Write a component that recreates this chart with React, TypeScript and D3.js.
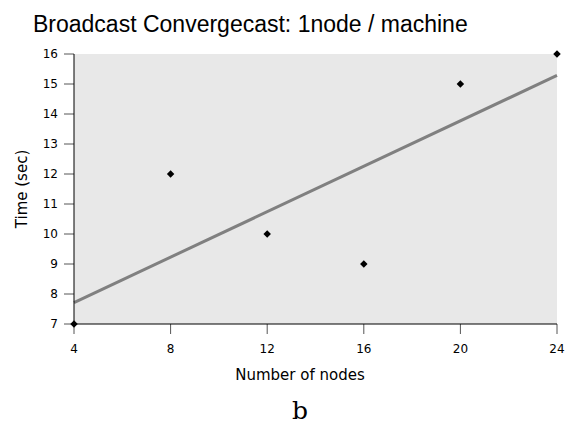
import React from "react";
import * as d3 from "d3";

const nodes = [4, 8, 12, 16, 20, 24];
const times = [7, 12, 10, 9, 15, 16];
const xTicks = [4, 8, 12, 16, 20, 24];
const yTicks = [7, 8, 9, 10, 11, 12, 13, 14, 15, 16];

export default function App() {
  const W = 573, H = 428;
  const x = d3.scaleLinear().domain([4, 24]).range([74, 557]);
  const y = d3.scaleLinear().domain([7, 16]).range([324, 54]);
  const mx = d3.mean(nodes)!, my = d3.mean(times)!;
  const sxy = d3.sum(nodes.map((v, i) => (v - mx) * (times[i] - my)));
  const sxx = d3.sum(nodes.map((v) => (v - mx) ** 2));
  const slope = sxy / sxx;
  const icpt = my - slope * mx;
  const line = d3.line<number>().x((d) => x(d)).y((d) => y(icpt + slope * d));
  const diamond = d3.symbol().type(d3.symbolSquare).size(28)()!;
  const font = "DejaVu Sans, sans-serif";
  return (
    <svg width={W} height={H} style={{ position: "absolute", left: 0, top: 0, background: "#fff" }}>
      <text x={33} y={32} fontFamily="Liberation Sans, sans-serif" fontSize={23} fill="#000">Broadcast Convergecast: 1node / machine</text>
      <rect x={x(4)} y={y(16)} width={x(24) - x(4)} height={y(7) - y(16)} fill="#e8e8e8" />
      <path d={line([4, 24])!} stroke="#808080" strokeWidth={3} fill="none" />
      {yTicks.map((t) => (
        <g key={"y" + t}>
          <line x1={x(4) - 10} x2={x(4)} y1={y(t)} y2={y(t)} stroke="#555" strokeWidth={1} />
          <text x={58} y={y(t) + 4} textAnchor="end" fontFamily={font} fontSize={12}>{t}</text>
        </g>
      ))}
      {xTicks.map((t) => (
        <g key={"x" + t}>
          <line x1={x(t)} x2={x(t)} y1={y(7)} y2={y(7) + 10} stroke="#555" strokeWidth={1} />
          <text x={x(t)} y={353} textAnchor="middle" fontFamily={font} fontSize={12}>{t}</text>
        </g>
      ))}
      <line x1={x(4)} x2={x(4)} y1={y(16)} y2={y(7)} stroke="#000" strokeWidth={1} />
      <line x1={x(4)} x2={x(24)} y1={y(7)} y2={y(7)} stroke="#000" strokeWidth={1} />
      {nodes.map((n, i) => (
        <path key={n} d={diamond} transform={`translate(${x(n)},${y(times[i])}) rotate(45)`} fill="#000" />
      ))}
      <text x={300} y={380} textAnchor="middle" fontFamily={font} fontSize={15}>Number of nodes</text>
      <text transform={`translate(27,${(y(7) + y(16)) / 2}) rotate(-90)`} textAnchor="middle" fontFamily={font} fontSize={15}>Time (sec)</text>
      <text x={300} y={419} textAnchor="middle" fontFamily="DejaVu Serif, serif" fontSize={25}>b</text>
    </svg>
  );
}
